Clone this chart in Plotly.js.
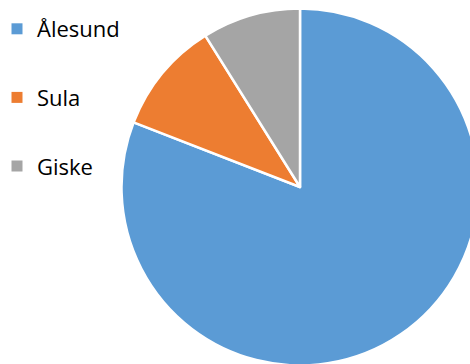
<!DOCTYPE html>
<html>
<head>
<meta charset="utf-8">
<script src="https://cdn.plot.ly/plotly-3.0.1.min.js"></script>
<style>
html,body{margin:0;padding:0;overflow:hidden;background:#fff;width:470px;height:364px;}
#chart{width:606px;height:400px;margin-left:-3px;}
</style>
</head>
<body>
<div id="chart"></div>
<script>
const labels = ["Ålesund", "Sula", "Giske"];
const values = [80.9, 10.2, 8.9];
const colors = ["#5B9BD5", "#ED7D31", "#A5A5A5"];

const pie = {
  type: "pie",
  labels: labels,
  values: values,
  sort: false,
  direction: "clockwise",
  rotation: 0,
  textinfo: "none",
  hoverinfo: "label+percent",
  showlegend: false,
  marker: {colors: colors, line: {color: "#ffffff", width: 2.5}},
  domain: {x: [0, 1], y: [0.08625, 0.97875]}
};

const legendTraces = labels.map((l, i) => ({
  type: "scatter",
  mode: "markers",
  x: [null], y: [null],
  name: l,
  legendgroup: "g" + i,
  marker: {symbol: "square", size: 11, color: colors[i]},
  hoverinfo: "skip"
}));

const layout = {
  width: 606, height: 400,
  margin: {l: 0, r: 0, t: 0, b: 0},
  paper_bgcolor: "#ffffff",
  plot_bgcolor: "rgba(0,0,0,0)",
  xaxis: {visible: false},
  yaxis: {visible: false},
  showlegend: true,
  legend: {
    x: 0, xanchor: "left", y: 0.98, yanchor: "top",
    font: {family: "Open Sans, sans-serif", size: 22, color: "#000"},
    tracegroupgap: 37,
    bgcolor: "rgba(0,0,0,0)"
  }
};

Plotly.newPlot("chart", [pie].concat(legendTraces), layout, {displayModeBar: false, staticPlot: true});
</script>
</body>
</html>
